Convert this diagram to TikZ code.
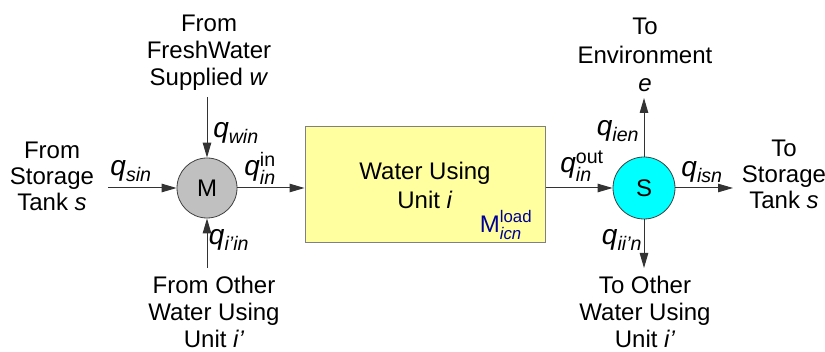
\documentclass[tikz,border=0pt]{standalone}
\usepackage{amsmath}
\usepackage{fontspec}
\setmainfont{Liberation Sans}
\usetikzlibrary{arrows.meta}

\definecolor{unitfill}{RGB}{255,255,160}
\definecolor{mixfill}{RGB}{192,192,192}
\definecolor{splitfill}{RGB}{0,255,255}
\definecolor{loadblue}{RGB}{0,0,150}

\newcommand{\qflow}[1]{$\textit{q}_{\textit{#1}}$}

\begin{document}
\begin{tikzpicture}[x=1pt, y=-1pt,
  flow/.style={draw=black!80, line width=1pt, -{Triangle[length=15pt,width=8.5pt]}},
  txt/.style={align=center, inner sep=0pt, font=\fontsize{24}{27}\selectfont},
  qlbl/.style={inner sep=0pt, font=\fontsize{28}{30}\selectfont},
  junction/.style={circle, draw=black!75, line width=0.8pt, inner sep=0pt, font=\fontsize{24}{28}\selectfont}]
\useasboundingbox (0,0) rectangle (825,352);

\node[junction, fill=mixfill, minimum size=60pt] (mix) at (207,188) {M};
\node[junction, fill=splitfill, minimum size=62pt] (split) at (644,188) {S};
\node[txt, draw=black!50, line width=1pt, fill=unitfill, minimum width=240pt, minimum height=116pt, font=\fontsize{24}{29}\selectfont] (unit) at (425,185) {Water Using\\Unit \textit{i}};
\node[inner sep=0pt, text=loadblue, font=\fontsize{24}{28}\selectfont] (load) at (506,225) {$\text{M}_{\textit{icn}}^{\text{load}}$};

\node[txt, font=\fontsize{24}{26}\selectfont] (storin) at (52,176) {From\\Storage\\Tank \textit{s}};
\node[txt] (fresh) at (209,53) {From\\FreshWater\\Supplied \textit{w}};
\node[txt] (otherin) at (214,312) {From Other\\Water Using\\Unit \textit{i'}};
\node[txt, font=\fontsize{24}{28.5}\selectfont] (env) at (645,55) {To\\Environment\\\textit{e}};
\node[txt, font=\fontsize{24}{26}\selectfont] (storout) at (784,174) {To\\Storage\\Tank \textit{s}};
\node[txt] (otherout) at (645,312) {To Other\\Water Using\\Unit \textit{i'}};

\coordinate (sin) at (108,188);
\coordinate (win) at (207,97);
\coordinate (iin) at (207,268);
\coordinate (een) at (644,98);
\coordinate (isn) at (733,188);
\coordinate (iout) at (644,268);

\draw[flow] (sin) -- (mix);
\draw[flow] (win) -- (mix);
\draw[flow] (iin) -- (mix);
\draw[flow] (mix) -- (mix -| unit.west);
\draw[flow] (split -| unit.east) -- (split);
\draw[flow] (split) -- (een);
\draw[flow] (split) -- (isn);
\draw[flow] (split) -- (iout);

\node[qlbl] (qsin) at (131,171) {\qflow{sin}};
\node[qlbl] (qwin) at (236,133) {\qflow{win}};
\node[qlbl] (qiin) at (229,240) {\qflow{i'in}};
\node[qlbl] (qinin) at (260,168) {$\textit{q}_{\textit{in}}^{\text{in}}$};
\node[qlbl] (qinout) at (582,166) {$\textit{q}_{\textit{in}}^{\text{out}}$};
\node[qlbl] (qien) at (618,131) {\qflow{ien}};
\node[qlbl] (qisn) at (702,172) {\qflow{isn}};
\node[qlbl] (qiin2) at (622,240) {\qflow{ii'n}};
\end{tikzpicture}
\end{document}
